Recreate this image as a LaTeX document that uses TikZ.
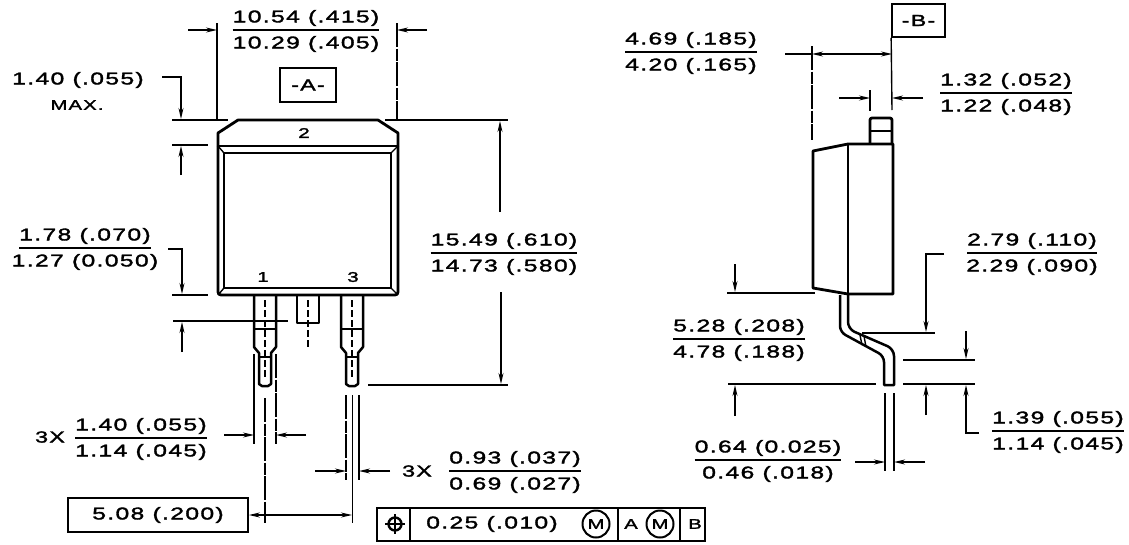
\documentclass[tikz,border=0pt]{standalone}
\usepackage{fontspec}
\setmainfont[FakeStretch=1.45,LetterSpace=8,FakeBold=2]{Liberation Sans}
\usetikzlibrary{arrows.meta,positioning}

% fraction label: name, centre x, rule y, upper text, lower text
\newcommand{\dimfrac}[5]{
  \node[dimtext] (#1up) at (#2,#3-12) {#4};
  \node[dimtext] (#1lo) at (#2,#3+14) {#5};
  \draw[rulerline] (#1up.west |- #2,#3) -- (#1up.east |- #2,#3);
}

\begin{document}
\begin{tikzpicture}[x=1pt,y=-1pt]
    \useasboundingbox (0,0) rectangle (1129,544);
    \tikzstyle{outline}=[line width=2.8pt,line join=round]
    \tikzstyle{leadline}=[line width=2.5pt,line join=round]
    \tikzstyle{thinline}=[line width=1.4pt]
    \tikzstyle{rulerline}=[line width=1.8pt]
    \tikzstyle{extline}=[line width=1.2pt,dash pattern=on 24pt off 1.5pt on 12pt off 1.5pt]
    \tikzstyle{centreline}=[line width=1.6pt,dash pattern=on 7pt off 3pt]
    \tikzstyle{dimline}=[line width=1.4pt,-{Stealth[length=11pt,width=5pt]}]
    \tikzstyle{bothline}=[line width=1.4pt,{Stealth[length=11pt,width=5pt]}-{Stealth[length=11pt,width=5pt]}]
    \tikzstyle{dimtext}=[inner sep=0pt,font=\fontsize{17}{19}\selectfont]
    \tikzstyle{smalltext}=[inner sep=0pt,font=\fontsize{14}{16}\selectfont]
    \tikzstyle{framebox}=[draw,line width=1.7pt,inner sep=0pt]

    % front view
    \draw[outline] (218,146) -- (218,133) -- (238,120) -- (378,120) -- (398,133) -- (398,146);
    \draw[outline,rounded corners=3pt] (218,146) -- (218,295) -- (398,295) -- (398,146);
    \draw[outline] (218,146) -- (398,146);
    \draw[outline] (224,153) rectangle (391,288);
    \draw[thinline] (218,146) -- (224,153) (398,146) -- (391,153)
      (218,295) -- (224,288) (398,295) -- (391,288);
    \node[smalltext] (pintwo) at (304,133) {2};
    \node[smalltext] (pinone) at (263,277) {1};
    \node[smalltext] (pinthree) at (353,277) {3};

    % leads of the front view
    \foreach \leadx in {265,352} {
      \draw[leadline] (\leadx-11,296) -- (\leadx-11,347) -- (\leadx-6,353)
        -- (\leadx-6,384) -- (\leadx-3,386) -- (\leadx+3,386) -- (\leadx+6,384)
        -- (\leadx+6,353) -- (\leadx+11,347) -- (\leadx+11,296);
      \draw[leadline] (\leadx-11,329) -- (\leadx+11,329);
      \draw[thinline] (\leadx-6,357) -- (\leadx+6,357);
      \draw[centreline] (\leadx,300) -- (\leadx,380);
    }
    \draw[leadline] (297,296) -- (297,323) -- (319,323) -- (319,296);
    \draw[centreline] (308,300) -- (308,348);

    % top width
    \dimfrac{topw}{306}{30}{10.54 (.415)}{10.29 (.405)}
    \draw[thinline] (217,23) -- (217,119);
    \draw[extline] (397,23) -- (397,119);
    \draw[dimline] (188,30) -- (217,30);
    \draw[dimline] (427,30) -- (397,30);
    \node[framebox,minimum width=56pt,minimum height=34pt,font=\fontsize{16}{18}\selectfont] (dataa) at (308,85) {-A-};

    % tab thickness
    \node[dimtext] (tabmax) at (78,80) {1.40 (.055)};
    \node[smalltext] (maxword) at (77,105) {MAX.};
    \draw[dimline] (162,77) -- (181,77) -- (181,119);
    \draw[rulerline] (172,120) -- (228,120) (172,145) -- (208,145);
    \draw[dimline] (181,175) -- (181,146);

    % lower lead height
    \dimfrac{stand}{85}{248}{1.78 (.070)}{1.27 (0.050)}
    \draw[dimline] (168,249) -- (182,249) -- (182,294);
    \draw[rulerline] (172,295) -- (208,295) (173,321) -- (288,321);
    \draw[dimline] (182,352) -- (182,322);

    % overall height
    \dimfrac{height}{504}{253}{15.49 (.610)}{14.73 (.580)}
    \draw[rulerline] (385,120) -- (508,120) (368,385) -- (508,385);
    \draw[dimline] (500,212) -- (500,121);
    \draw[dimline] (501,292) -- (501,384);

    % lead width
    \node[dimtext,font=\fontsize{16}{18}\selectfont] (threexa) at (50,437) {3X};
    \dimfrac{leadw}{141}{438}{1.40 (.055)}{1.14 (.045)}
    \draw[thinline] (254,354) -- (254,444);
    \draw[extline] (276,354) -- (276,444);
    \draw[dimline] (224,435) -- (254,435);
    \draw[dimline] (306,435) -- (276,435);

    % tip width
    \node[dimtext,font=\fontsize{16}{18}\selectfont] (threexb) at (417,471) {3X};
    \dimfrac{tipw}{515}{471}{0.93 (.037)}{0.69 (.027)}
    \draw[extline] (265,398) -- (265,523);
    \draw[extline] (346,395) -- (346,480);
    \draw[thinline] (359,395) -- (359,480);
    \draw[thinline] (352.5,395) -- (352.5,523);
    \draw[dimline] (315,471) -- (346,471);
    \draw[dimline] (390,471) -- (359,471);

    % pin spacing
    \node[framebox,minimum width=180pt,minimum height=34pt,font=\fontsize{17}{19}\selectfont] (pitch) at (158,515) {5.08 (.200)\hspace{10pt}};
    \draw[bothline] (pitch.east) -- (352,515);

    % tolerance frame
    \draw[framebox] (377,508) rectangle (705,541);
    \draw[framebox] (410,508) -- (410,541) (618,508) -- (618,541) (680,508) -- (680,541);
    \node[draw,circle,line width=2.4pt,minimum size=13pt,inner sep=0pt] (posmark) at (395,524) {};
    \draw[line width=2.4pt] (385,524) -- (405,524) (395,514) -- (395,534);
    \node[dimtext] (toler) at (492,524) {0.25 (.010)};
    \node[draw,circle,line width=2pt,minimum size=27pt,inner sep=0pt,smalltext] (mcirca) at (596,524) {M};
    \node[smalltext] (refa) at (631,524) {A};
    \node[draw,circle,line width=2pt,minimum size=27pt,inner sep=0pt,smalltext] (mcircb) at (660,524) {M};
    \node[smalltext] (refb) at (695,524) {B};

    % side view
    \draw[outline] (813,151) -- (848,144) -- (893,144) -- (893,294) -- (848,294)
      -- (813,288) -- cycle;
    \draw[outline] (848,144) -- (848,294);
    \draw[outline,rounded corners=2pt] (870,144) -- (870,118) -- (892,118) -- (892,144);
    \draw[leadline] (870,131) -- (892,131);

    % bent lead
    \draw[leadline,rounded corners=6pt] (840,295) -- (840,332) -- (884,356) [sharp corners] -- (884,385)
      -- (894,385) [rounded corners=7pt] -- (894,349) -- (848,329) -- (848,295);
    \draw[thinline] (860,335) -- (862,345) (864,336) -- (866,347);

    % datum b
    \node[framebox,minimum width=53pt,minimum height=33pt,font=\fontsize{16}{18}\selectfont] (datab) at (918.5,20.5) {-B-};
    \draw[thinline] (datab.south west) -- (892,110);
    \dimfrac{bodyd}{691}{52}{4.69 (.185)}{4.20 (.165)}
    \draw[extline] (812,46) -- (812,140);
    \draw[thinline] (785,54) -- (812,54);
    \draw[bothline] (812,54) -- (892,54);

    % tab width
    \dimfrac{tabw}{1006}{93}{1.32 (.052)}{1.22 (.048)}
    \draw[thinline] (870,90) -- (870,111);
    \draw[dimline] (839,98) -- (870,98);
    \draw[dimline] (923,98) -- (892,98);

    % side heights
    \draw[rulerline] (727,293) -- (815,293);
    \draw[dimline] (735,264) -- (735,292);
    \dimfrac{bend}{1032}{253}{2.79 (.110)}{2.29 (.090)}
    \draw[dimline] (944,254) -- (926,254) -- (926,332);
    \draw[rulerline] (862,333) -- (935,333);
    \draw[dimline] (926,415) -- (926,385);
    \dimfrac{seat}{739}{339}{5.28 (.208)}{4.78 (.188)}
    \draw[rulerline] (728,384) -- (876,384) (903,384) -- (975,384) (903,360) -- (975,360);
    \draw[dimline] (735,416) -- (735,385);
    \draw[dimline] (966,331) -- (966,359);
    \draw[dimline] (979,433) -- (966,433) -- (966,385);
    \dimfrac{foot}{1058}{431}{1.39 (.055)}{1.14 (.045)}

    % lead thickness
    \dimfrac{thick}{768}{460}{0.64 (0.025)}{0.46 (.018)}
    \draw[thinline] (885,393) -- (885,471) (894,393) -- (894,471);
    \draw[dimline] (855,462) -- (885,462);
    \draw[dimline] (925,462) -- (894,462);
  \end{tikzpicture}
\end{document}
